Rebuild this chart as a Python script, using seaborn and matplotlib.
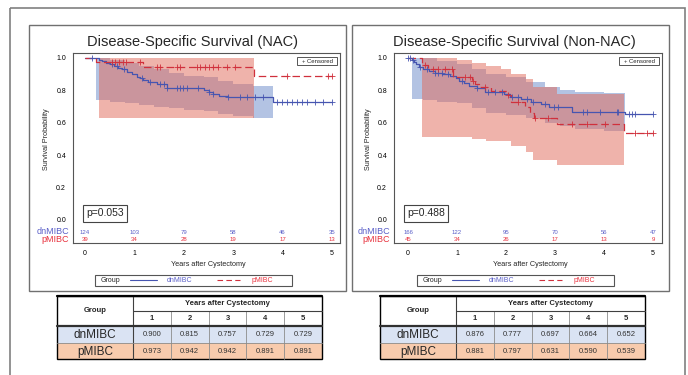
import numpy as np
import matplotlib
matplotlib.use("Agg")
import matplotlib.pyplot as plt
import seaborn as sns
from matplotlib.patches import Rectangle

# ---------------- data ----------------
years = [1, 2, 3, 4, 5]
risk_years = [0, 1, 2, 3, 4, 5]

# NAC panel
nac_dn_t = [0, 0.28, 0.35, 0.42, 0.50, 0.58, 0.66, 0.75, 0.85, 0.95, 1.05, 1.12, 1.18, 1.28,
            1.45, 1.65, 2.40, 2.50, 2.60, 2.72, 2.90, 3.80, 5.0]
nac_dn_s = [1.0, 0.99, 0.98, 0.97, 0.96, 0.95, 0.94, 0.93, 0.915, 0.90, 0.885, 0.875, 0.865, 0.85,
            0.84, 0.815, 0.80, 0.79, 0.78, 0.767, 0.757, 0.729, 0.729]
nac_dn_cens = [0.14, 0.54, 0.64, 0.78, 1.15, 1.32, 1.52, 1.59, 1.65, 1.86, 1.92, 1.99, 2.06, 2.29,
               2.5, 2.6, 2.9, 3.14, 3.27, 3.44, 3.6, 3.88, 3.99, 4.09, 4.19, 4.29, 4.39, 4.49,
               4.66, 4.82, 5.0]
nac_p_t = [0, 0.22, 1.18, 3.42, 5.0]
nac_p_s = [1.0, 0.973, 0.942, 0.891, 0.891]
nac_p_cens = [0.54, 0.61, 0.69, 0.77, 0.83, 1.11, 1.45, 1.52, 1.86, 1.92, 2.26, 2.33, 2.43, 2.50,
              2.60, 2.70, 2.87, 3.04, 4.09, 4.92, 5.0]
nac_dn_band_t = [0.22, 0.5, 0.8, 1.1, 1.4, 1.7, 2.0, 2.4, 2.7, 3.0, 3.4, 3.8]
nac_dn_band_hi = [1.0, 0.99, 0.97, 0.95, 0.93, 0.91, 0.89, 0.88, 0.86, 0.84, 0.83, 0.83]
nac_dn_band_lo = [0.74, 0.73, 0.72, 0.71, 0.70, 0.69, 0.68, 0.67, 0.655, 0.64, 0.63, 0.63]
nac_p_band_t = [0.28, 3.42]
nac_p_band_hi = [1.0, 1.0]
nac_p_band_lo = [0.63, 0.63]
nac_risk_dn = [124, 103, 79, 58, 46, 35]
nac_risk_p = [39, 34, 28, 19, 17, 13]
nac_pval = "p=0.053"
nac_tab_dn = [0.900, 0.815, 0.757, 0.729, 0.729]
nac_tab_p = [0.973, 0.942, 0.942, 0.891, 0.891]

# Non-NAC panel
non_dn_t = [0, 0.08, 0.12, 0.16, 0.22, 0.30, 0.42, 0.55, 0.70, 0.85, 0.97, 1.05, 1.15, 1.25,
            1.40, 1.58, 1.95, 2.08, 2.30, 2.52, 2.72, 2.88, 3.35, 4.42, 5.0]
non_dn_s = [1.0, 0.99, 0.975, 0.96, 0.945, 0.935, 0.92, 0.91, 0.90, 0.89, 0.876, 0.86, 0.845, 0.83,
            0.815, 0.79, 0.777, 0.757, 0.745, 0.73, 0.715, 0.697, 0.664, 0.652, 0.652]
non_dn_cens = [0.01, 0.04, 0.11, 0.24, 0.38, 0.55, 0.62, 0.69, 0.82, 1.10, 1.40, 1.64, 1.78, 1.91,
               2.12, 2.25, 2.42, 2.56, 2.80, 2.97, 3.07, 3.58, 3.65, 3.92, 4.26, 4.29, 4.50,
               4.57, 4.63, 5.0]
non_p_t = [0, 0.29, 0.33, 0.40, 0.92, 1.30, 1.36, 1.45, 1.70, 2.05, 2.10, 2.38, 2.48, 2.58,
           3.05, 4.40, 5.0]
non_p_s = [1.0, 0.97, 0.955, 0.935, 0.881, 0.86, 0.84, 0.82, 0.797, 0.77, 0.73, 0.70, 0.66, 0.631,
           0.59, 0.539, 0.539]
non_p_cens = [0.35, 0.52, 0.62, 0.76, 0.89, 1.16, 1.27, 1.33, 1.57, 2.05, 2.25, 2.59, 2.86, 3.34,
              3.65, 4.02, 4.63, 4.87, 5.0]
non_dn_band_t = [0.08, 0.3, 0.6, 1.0, 1.3, 1.6, 2.0, 2.4, 2.8, 3.1, 3.4, 4.0, 4.42]
non_dn_band_hi = [1.0, 1.0, 0.98, 0.96, 0.93, 0.90, 0.88, 0.85, 0.82, 0.80, 0.79, 0.785, 0.785]
non_dn_band_lo = [0.75, 0.74, 0.73, 0.72, 0.69, 0.66, 0.65, 0.63, 0.60, 0.58, 0.56, 0.55, 0.55]
non_p_band_t = [0.28, 1.0, 1.3, 1.6, 1.9, 2.1, 2.4, 2.55, 3.05, 4.40]
non_p_band_hi = [1.0, 0.99, 0.97, 0.95, 0.93, 0.90, 0.87, 0.82, 0.78, 0.78]
non_p_band_lo = [0.51, 0.51, 0.50, 0.485, 0.485, 0.455, 0.42, 0.37, 0.34, 0.34]
non_risk_dn = [166, 122, 95, 70, 56, 47]
non_risk_p = [45, 34, 26, 17, 13, 9]
non_pval = "p=0.488"
non_tab_dn = [0.876, 0.777, 0.697, 0.664, 0.652]
non_tab_p = [0.881, 0.797, 0.631, 0.590, 0.539]

BLUE = "#4655b0"
RED = "#d0303c"
BLUE_TXT = "#5a5fc8"
RED_TXT = "#e8323e"
BLUE_BAND = "#6989c9"
RED_BAND = "#e16959"

sns.set_theme(style="white")
plt.rcParams["font.family"] = ["Liberation Sans", "DejaVu Sans"]

W, H = 688, 375
FRAME_TOP, FRAME_BOT = 53, 243
fig = plt.figure(figsize=(6.88, 3.75), dpi=100)
bg = fig.add_axes([0, 0, 1, 1])
bg.set_xlim(0, W)
bg.set_ylim(H, 0)
bg.axis("off")

# outer frame and panel boxes
bg.add_patch(Rectangle((10, 8), 675, 420, fill=False, ec="#808080", lw=1.2))
for bx in (29, 352):
    bg.add_patch(Rectangle((bx, 25), 317, 266, fill=False, ec="#707070", lw=1.0))

panel_axes = []


def step_at(ts, ss, tc):
    idx = np.searchsorted(ts, tc, side="right") - 1
    return np.asarray(ss)[idx]


def km_panel(fx0, fx1, t0px, t5px, dn, p, dn_band, p_band, risk_dn, risk_p):
    ax = fig.add_axes([fx0 / W, 1 - FRAME_BOT / H, (fx1 - fx0) / W, (FRAME_BOT - FRAME_TOP) / H])
    sc = (t5px - t0px) / 5
    ax.set_xlim((fx0 - t0px) / sc, (fx1 - t0px) / sc)
    ax.set_ylim((220 - FRAME_BOT) / 162, (220 - FRAME_TOP) / 162)

    # confidence bands
    ax.fill_between(dn_band[0], dn_band[2], dn_band[1], step="post", color=BLUE_BAND,
                    alpha=0.5, lw=0, zorder=1)
    ax.fill_between(p_band[0], p_band[2], p_band[1], step="post", color=RED_BAND,
                    alpha=0.5, lw=0, zorder=2)

    # survival curves
    sns.lineplot(x=dn[0], y=dn[1], drawstyle="steps-post", color=BLUE, lw=0.9,
                 estimator=None, sort=False, ax=ax, zorder=3)
    sns.lineplot(x=p[0], y=p[1], drawstyle="steps-post", color=RED, lw=0.9,
                 linestyle=(0, (6, 3)), estimator=None, sort=False, ax=ax, zorder=3)

    # censor marks
    sns.scatterplot(x=dn[2], y=step_at(dn[0], dn[1], dn[2]), marker="+", s=14, color=BLUE,
                    linewidth=0.6, ax=ax, zorder=4)
    sns.scatterplot(x=p[2], y=step_at(p[0], p[1], p[2]), marker="+", s=14, color=RED,
                    linewidth=0.6, ax=ax, zorder=4)

    # at-risk numbers
    for yr, a, b in zip(risk_years, risk_dn, risk_p):
        ax.text(yr, (220 - 232) / 162, str(a), ha="center", va="center", fontsize=4.3,
                color=BLUE_TXT)
        ax.text(yr, (220 - 239.5) / 162, str(b), ha="center", va="center", fontsize=4.3,
                color=RED_TXT)

    ax.set_xticks(risk_years)
    ax.set_xticklabels([str(v) for v in risk_years])
    yt = [0.0, 0.2, 0.4, 0.6, 0.8, 1.0]
    ax.set_yticks(yt)
    ax.set_yticklabels([f"{v:.1f}" for v in yt])
    ax.tick_params(direction="out", length=3, width=0.6, labelsize=5, pad=2, colors="#333333")
    ax.tick_params(axis="both", labelcolor="black")
    for sp in ax.spines.values():
        sp.set_color("#555555")
        sp.set_linewidth(0.8)
    ax.set_xlabel("")
    ax.set_ylabel("")
    panel_axes.append(ax)
    return ax


km_panel(73, 340, 85, 332,
         (nac_dn_t, nac_dn_s, nac_dn_cens), (nac_p_t, nac_p_s, nac_p_cens),
         (nac_dn_band_t, nac_dn_band_hi, nac_dn_band_lo),
         (nac_p_band_t, nac_p_band_hi, nac_p_band_lo),
         nac_risk_dn, nac_risk_p)
km_panel(394, 662, 408, 653,
         (non_dn_t, non_dn_s, non_dn_cens), (non_p_t, non_p_s, non_p_cens),
         (non_dn_band_t, non_dn_band_hi, non_dn_band_lo),
         (non_p_band_t, non_p_band_hi, non_p_band_lo),
         non_risk_dn, non_risk_p)

# overlay for annotation boxes on top of the plot areas
top = fig.add_axes([0, 0, 1, 1])
top.set_xlim(0, W)
top.set_ylim(H, 0)
top.axis("off")
top.patch.set_alpha(0)


def panel_text(dx, fx0, t0px, t5px, title, pval):
    top.text(fx0 - 4, 232, "dnMIBC", ha="right", va="center", fontsize=6.5, color=BLUE_TXT)
    top.text(fx0 - 4, 240, "pMIBC", ha="right", va="center", fontsize=6.5, color=RED_TXT)
    top.text(fx0 - 26, 139, "Survival Probability", rotation=90, ha="center", va="center",
             fontsize=5.2)
    top.text((t0px + t5px) / 2, 264, "Years after Cystectomy", ha="center", va="center",
             fontsize=5.2)
    top.text((t0px + t5px) / 2 - 16, 42, title, ha="center", va="center", fontsize=10.5)

    # censored legend box
    top.add_patch(Rectangle((297 + dx, 57), 40, 8, fc="white", ec="#555555", lw=0.7))
    top.text(317 + dx, 61.2, "+ Censored", ha="center", va="center", fontsize=4.3)

    # p-value box
    top.text(fx0 + 32, 213.5, pval, ha="center", va="center", fontsize=7.5,
             bbox=dict(boxstyle="square,pad=0.3", fc="white", ec="#444444", lw=0.8))

    # group legend
    top.add_patch(Rectangle((95 + dx, 275), 197, 10.5, fill=False, ec="#555555", lw=0.8))
    top.text(101 + dx, 280.3, "Group", ha="left", va="center", fontsize=5)
    top.plot([130 + dx, 157 + dx], [280.3, 280.3], color=BLUE, lw=0.8)
    top.text(167 + dx, 280.3, "dnMIBC", ha="left", va="center", fontsize=5, color=BLUE_TXT)
    top.plot([217 + dx, 240 + dx], [280.3, 280.3], color=RED, lw=0.8, linestyle=(0, (5, 3)))
    top.text(252 + dx, 280.3, "pMIBC", ha="left", va="center", fontsize=5, color=RED_TXT)


panel_text(0, 73, 85, 332, "Disease-Specific Survival (NAC)", nac_pval)
panel_text(322, 394, 408, 653, "Disease-Specific Survival (Non-NAC)", non_pval)


def draw_table(x0, dn_vals, p_vals):
    cw = 37.8
    gx = x0 + 76
    x_end = gx + 5 * cw
    r0, r1, r2, r3, r4 = 296, 310.5, 326, 343, 359
    top.add_patch(Rectangle((x0, r2), x_end - x0, r3 - r2, fc="#dae3f3", ec="none"))
    top.add_patch(Rectangle((x0, r3), x_end - x0, r4 - r3, fc="#f8cbad", ec="none"))
    # grid lines
    for i in range(1, 5):
        top.plot([gx + i * cw] * 2, [r1, r4], color="#8c8c8c", lw=0.6)
    top.plot([gx, gx], [r0, r4], color="#404040", lw=0.8)
    top.plot([gx, x_end], [r1, r1], color="#404040", lw=0.8)
    top.plot([x0, x_end], [r2, r2], color="#303030", lw=1.6)
    top.plot([x0, x_end], [r3, r3], color="#8c8c8c", lw=0.6)
    top.add_patch(Rectangle((x0, r0), x_end - x0, r4 - r0, fill=False, ec="black", lw=1.0))
    top.plot([x0, x_end], [r0, r0], color="black", lw=1.6)

    top.text((x0 + gx) / 2, (r0 + r2) / 2, "Group", ha="center", va="center", fontsize=5.5,
             fontweight="bold")
    top.text((gx + x_end) / 2, (r0 + r1) / 2 + 0.5, "Years after Cystectomy", ha="center",
             va="center", fontsize=5.5, fontweight="bold")
    for i, yr in enumerate(years):
        cx = gx + (i + 0.5) * cw
        top.text(cx, (r1 + r2) / 2 + 0.5, str(yr), ha="center", va="center", fontsize=5.5,
                 fontweight="bold")
        top.text(cx, (r2 + r3) / 2 + 0.5, f"{dn_vals[i]:.3f}", ha="center", va="center",
                 fontsize=5.5, color="#333333")
        top.text(cx, (r3 + r4) / 2 + 0.5, f"{p_vals[i]:.3f}", ha="center", va="center",
                 fontsize=5.5, color="#333333")
    top.text((x0 + gx) / 2, (r2 + r3) / 2 + 0.5, "dnMIBC", ha="center", va="center", fontsize=8.5)
    top.text((x0 + gx) / 2, (r3 + r4) / 2 + 0.5, "pMIBC", ha="center", va="center", fontsize=8.5)


draw_table(57, nac_tab_dn, nac_tab_p)
draw_table(380, non_tab_dn, non_tab_p)

fig.savefig("out.png", dpi=100)
